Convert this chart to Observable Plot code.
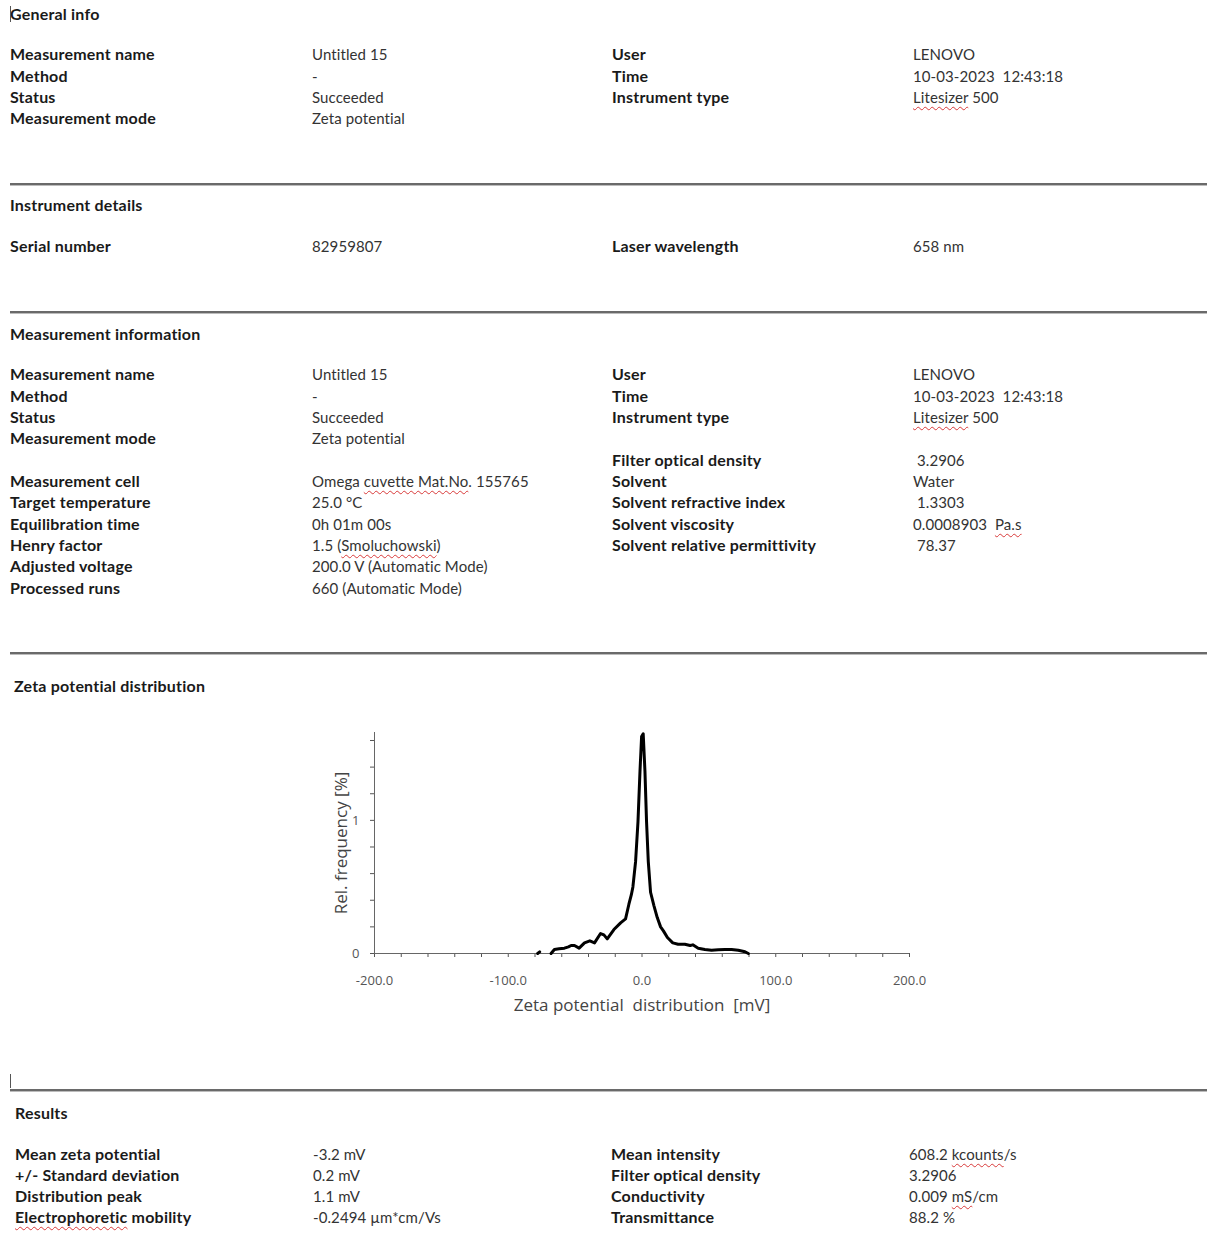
<!DOCTYPE html>
<html><head><meta charset="utf-8">
<script src="https://cdn.jsdelivr.net/npm/d3@7"></script>
<script src="https://cdn.jsdelivr.net/npm/@observablehq/plot@0.6"></script>
<style>
html,body{margin:0;padding:0;background:#fff}
body{width:1207px;height:1241px;position:relative;overflow:hidden;font-family:Lato,"Open Sans",sans-serif;color:#1e1e1e}
.t{position:absolute;white-space:pre;line-height:20px;height:20px;font-size:15px}
.b{font-weight:700;color:#1a1a1a;font-size:16px;letter-spacing:0.2px}
.v{color:#333;letter-spacing:0.1px}
.rule{position:absolute;left:10px;width:1197px;height:2px;background:#6a6a6a;border-bottom:1px solid #bcbcbc}
.sp{text-decoration:underline wavy #d83a3a;text-decoration-thickness:1px;text-underline-offset:3px}
#chart{position:absolute;left:300px;top:715px}
</style></head><body>
<script>
// ---------- report text ----------
const generalRows = [
  ["Measurement name", "Untitled 15", "User", "LENOVO"],
  ["Method", "-", "Time", "10-03-2023  12:43:18"],
  ["Status", "Succeeded", "Instrument type", "{Litesizer} 500"],
  ["Measurement mode", "Zeta potential", "", ""]
];
const generalY = [54, 76, 97, 118];

const instrumentRows = [["Serial number", "82959807", "Laser wavelength", "658 nm"]];
const instrumentY = [246];

const measLeft = [
  ["Measurement name", "Untitled 15", 374],
  ["Method", "-", 396],
  ["Status", "Succeeded", 417],
  ["Measurement mode", "Zeta potential", 438],
  ["Measurement cell", "Omega {cuvette Mat.No}. 155765", 481],
  ["Target temperature", "25.0 °C", 502],
  ["Equilibration time", "0h 01m 00s", 524],
  ["Henry factor", "1.5 ({Smoluchowski})", 545],
  ["Adjusted voltage", "200.0 V (Automatic Mode)", 566],
  ["Processed runs", "660 (Automatic Mode)", 588]
];
const measRight = [
  ["User", "LENOVO", 374],
  ["Time", "10-03-2023  12:43:18", 396],
  ["Instrument type", "{Litesizer} 500", 417],
  ["Filter optical density", " 3.2906", 460],
  ["Solvent", "Water", 481],
  ["Solvent refractive index", " 1.3303", 502],
  ["Solvent viscosity", "0.0008903  {Pa.s}", 524],
  ["Solvent relative permittivity", " 78.37", 545]
];

const resultRows = [
  ["Mean zeta potential", "-3.2 mV", "Mean intensity", "608.2 {kcounts}/s"],
  ["+/- Standard deviation", "0.2 mV", "Filter optical density", "3.2906"],
  ["Distribution peak", "1.1 mV", "Conductivity", "0.009 {mS}/cm"],
  ["{Electrophoretic} mobility", "-0.2494 µm*cm/Vs", "Transmittance", "88.2 %"]
];
const resultY = [1154, 1175, 1196, 1217];

const sectionTitles = [
  ["General info", 10, 14],
  ["Instrument details", 10, 205],
  ["Measurement information", 10, 334],
  ["Zeta potential distribution", 14, 686],
  ["Results", 15, 1113]
];
const ruleY = [184, 312, 653, 1090];

// ---------- chart data ----------
const zeta = [-78, -76.5, -72, -68, -65.5, -62, -58, -55, -53, -50.5, -47, -43, -39, -35.5, -31, -28.5, -26, -21, -16, -12.3, -9.8, -8, -6.8, -4.8, -3, -1.5, -0.3, 0.9, 2.2, 3.4, 4.7, 6.4, 8.9, 11.4, 13.9, 16, 19, 23, 27, 32, 36, 38, 42, 47, 52, 57, 62, 67, 72, 77, 79.5];
const freq = [0, 0.012, NaN, 0, 0.03, 0.035, 0.04, 0.05, 0.06, 0.06, 0.04, 0.08, 0.095, 0.08, 0.15, 0.14, 0.11, 0.18, 0.23, 0.26, 0.37, 0.44, 0.5, 0.69, 0.99, 1.37, 1.63, 1.65, 1.37, 0.99, 0.69, 0.46, 0.36, 0.27, 0.2, 0.17, 0.12, 0.08, 0.07, 0.07, 0.06, 0.065, 0.04, 0.03, 0.025, 0.028, 0.03, 0.03, 0.025, 0.013, 0];
const xMajorTicks = [-200, -100, 0, 100, 200];
const xMinorTicks = d3.range(-200, 201, 20);
const yLabelTicks = [0, 1];
const yMinorTicks = [0, 0.2, 0.4, 0.6, 0.8, 1, 1.2, 1.4, 1.6];
const xLabel = "Zeta potential  distribution  [mV]";
const yLabel = "Rel. frequency [%]";

// ---------- helpers ----------
function esc(s){return s.replace(/&/g,"&amp;").replace(/</g,"&lt;");}
function markup(s){return esc(s).replace(/\{([^}]*)\}/g,'<span class="sp">$1</span>');}
function txt(s, x, y, cls){
  if(!s) return;
  const d = document.createElement("div");
  d.className = "t " + cls;
  d.style.left = x + "px";
  d.style.top = (y - 10) + "px";
  d.innerHTML = markup(s);
  document.body.appendChild(d);
}
sectionTitles.forEach(([s,x,y]) => txt(s, x, y, "b"));
ruleY.forEach(y => {const r=document.createElement("div");r.className="rule";r.style.top=(y-1)+"px";document.body.appendChild(r);});
generalRows.forEach((r,i)=>{txt(r[0],10,generalY[i],"b");txt(r[1],312,generalY[i],"v");txt(r[2],612,generalY[i],"b");txt(r[3],913,generalY[i],"v");});
instrumentRows.forEach((r,i)=>{txt(r[0],10,instrumentY[i],"b");txt(r[1],312,instrumentY[i],"v");txt(r[2],612,instrumentY[i],"b");txt(r[3],913,instrumentY[i],"v");});
measLeft.forEach(r=>{txt(r[0],10,r[2],"b");txt(r[1],312,r[2],"v");});
measRight.forEach(r=>{txt(r[0],612,r[2],"b");txt(r[1],913,r[2],"v");});
resultRows.forEach((r,i)=>{txt(r[0],15,resultY[i],"b");txt(r[1],313,resultY[i],"v");txt(r[2],611,resultY[i],"b");txt(r[3],909,resultY[i],"v");});
// cursor marks
[[10,6,16],[10,1074,14]].forEach(([x,y,h])=>{const c=document.createElement("div");c.style.cssText=`position:absolute;left:${x}px;top:${y}px;width:1px;height:${h}px;background:#555`;document.body.appendChild(c);});

// ---------- chart ----------
const data = zeta.map((z,i)=>({zeta:z, freq:freq[i]}));
const chart = Plot.plot({
  width: 640, height: 320,
  marginLeft: 74, marginRight: 31, marginTop: 17, marginBottom: 82,
  x: {domain: [-200, 200]},
  y: {domain: [0, 1.66]},
  style: {fontFamily: "'Open Sans', sans-serif", background: "transparent", overflow: "visible"},
  marks: [
    Plot.axisX({ticks: xMinorTicks, tickSize: 4, tickFormat: () => "", stroke: "#555", label: null}),
    Plot.axisX({ticks: xMajorTicks, tickSize: 0, tickPadding: 22, tickFormat: d => d.toFixed(1), fontSize: 13, fill: "#555", label: null}),
    Plot.axisY({ticks: yMinorTicks, tickSize: 4, tickFormat: () => "", stroke: "#555", label: null}),
    Plot.axisY({ticks: yLabelTicks, tickSize: 0, tickPadding: 15, tickFormat: d => String(d), fontSize: 13, fill: "#555", label: null}),
    Plot.ruleY([0], {stroke: "#666", strokeWidth: 1}),
    Plot.ruleX([-200], {stroke: "#666", strokeWidth: 1}),
    Plot.line(data, {x: "zeta", y: "freq", stroke: "#000", strokeWidth: 3, strokeLinejoin: "round"}),
    Plot.text([xLabel], {frameAnchor: "bottom", dy: 57, fontSize: 17, fill: "#444"}),
    Plot.text([yLabel], {frameAnchor: "left", dx: -33, rotate: -90, textAnchor: "middle", fontSize: 17, fill: "#444"})
  ]
});
chart.id = "chart";
document.body.appendChild(chart);
</script>
</body></html>
